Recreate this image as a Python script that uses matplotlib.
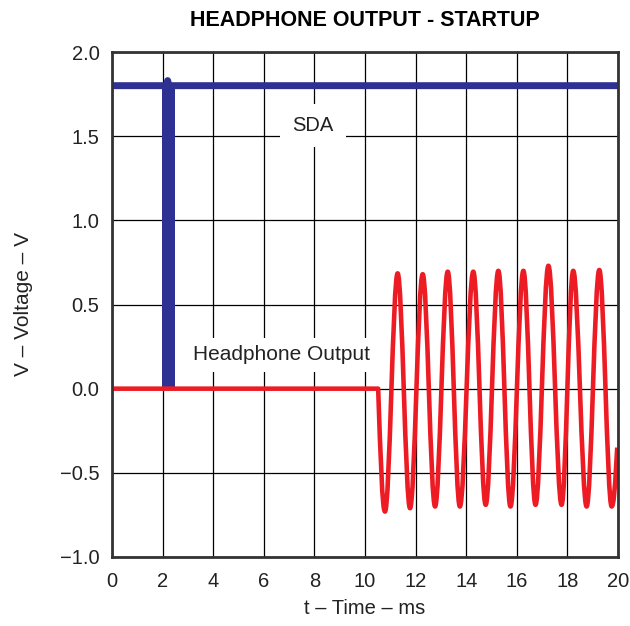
import matplotlib
matplotlib.use("Agg")
import matplotlib.pyplot as plt
from matplotlib.path import Path
from matplotlib.patches import PathPatch

plt.rcParams['font.family'] = ['Liberation Sans', 'DejaVu Sans']

# ---- data ----
x_ticks = [0, 2, 4, 6, 8, 10, 12, 14, 16, 18, 20]
y_ticks = [-1.0, -0.5, 0.0, 0.5, 1.0, 1.5, 2.0]
y_tick_labels = ['\u22121.0', '\u22120.5', '0.0', '0.5', '1.0', '1.5', '2.0']

# SDA trace (V) : idle high level with a burst of bus activity
sda_t = [0.0, 2.15, 2.2, 2.25, 20.0]
sda_v = [1.8, 1.8, 1.83, 1.8, 1.8]
sda_burst_t = [1.97, 2.48]
sda_burst_low = 0.0
sda_burst_high = 1.8

# Headphone output: flat until start, then sine extrema
hp_flat_t = [0.0, 10.52]
hp_flat_v = [0.0, 0.0]
hp_ext_t = [10.79, 11.29, 11.78, 12.28, 12.77, 13.27, 13.75, 14.28, 14.77,
            15.27, 15.75, 16.26, 16.74, 17.25, 17.77, 18.23, 18.76, 19.26, 19.75]
hp_ext_v = [-0.73, 0.685, -0.71, 0.68, -0.70, 0.695, -0.70, 0.695, -0.69,
            0.70, -0.70, 0.70, -0.69, 0.73, -0.69, 0.70, -0.70, 0.705, -0.70]
hp_end_t = [19.93, 19.97]
hp_end_v = [-0.45, -0.35]

BLUE = '#2e3192'
RED = '#ed1c24'
TXT = '#222222'

fig = plt.figure(figsize=(6.30, 6.26), dpi=100)
ax = fig.add_axes([112/630, 1-557/626, (618-112)/630, (557-52)/626])

ax.set_xlim(0, 20)
ax.set_ylim(-1.0, 2.0)
ax.set_xticks(x_ticks)
ax.set_yticks(y_ticks)
ax.set_yticklabels(y_tick_labels)
ax.tick_params(length=0, labelsize=14.5, colors=TXT)
ax.tick_params(axis='y', pad=9)
ax.tick_params(axis='x', pad=10.5)
ax.grid(True, color='black', lw=0.9, zorder=0)
ax.set_axisbelow(True)
for s in ax.spines.values():
    s.set_linewidth(2.0)
    s.set_color('#333333')
    s.set_zorder(5)

# SDA
ax.fill_between(sda_burst_t, [sda_burst_low]*2, [sda_burst_high]*2,
                color=BLUE, lw=0, zorder=3)
ax.plot(sda_t, sda_v, color=BLUE, lw=5, zorder=3, solid_capstyle='butt')

# Headphone output path built with Bezier half-waves between extrema
k = 0.3634
verts = [(hp_flat_t[0], hp_flat_v[0]), (hp_flat_t[1], hp_flat_v[1])]
codes = [Path.MOVETO, Path.LINETO]
# quarter wave from start to first trough
x0, y0 = hp_flat_t[1], hp_flat_v[1]
x1, y1 = hp_ext_t[0], hp_ext_v[0]
dx = x1 - x0
verts += [(x0 + 0.35*dx, y0 + 0.35*(y1 - y0)*1.57), (x1 - 0.4*dx, y1), (x1, y1)]
codes += [Path.CURVE4]*3
for i in range(len(hp_ext_t) - 1):
    x0, y0 = hp_ext_t[i], hp_ext_v[i]
    x1, y1 = hp_ext_t[i+1], hp_ext_v[i+1]
    dx = x1 - x0
    verts += [(x0 + k*dx, y0), (x1 - k*dx, y1), (x1, y1)]
    codes += [Path.CURVE4]*3
x0, y0 = hp_ext_t[-1], hp_ext_v[-1]
verts += [(x0 + 0.1, y0), (hp_end_t[0], hp_end_v[0])]
codes += [Path.CURVE3]*2
verts += [(hp_end_t[1], hp_end_v[1])]
codes += [Path.LINETO]
ax.add_patch(PathPatch(Path(verts, codes), fill=False, edgecolor=RED,
                       lw=3.3, zorder=4, joinstyle='round', capstyle='butt'))

# annotations
ax.text(7.95, 1.565, 'SDA', fontsize=14.5, color=TXT, ha='center', va='center',
        zorder=6, bbox=dict(boxstyle='square,pad=0.6', fc='white', ec='none'))
ax.text(6.7, 0.2, 'Headphone Output', fontsize=15, color=TXT, ha='center',
        va='center', zorder=6, bbox=dict(boxstyle='square,pad=0.35', fc='white', ec='none'))

ax.set_title('HEADPHONE OUTPUT - STARTUP', fontsize=15.5, fontweight='bold', pad=19)
ax.set_xlabel('t \u2013 Time \u2013 ms', fontsize=14.5, color=TXT)
ax.set_ylabel('V \u2013 Voltage \u2013 V', fontsize=15, color=TXT)
ax.xaxis.set_label_coords(0.5, -0.084)
ax.yaxis.set_label_coords(-0.156, 0.5)

fig.savefig('out.png', dpi=100)
